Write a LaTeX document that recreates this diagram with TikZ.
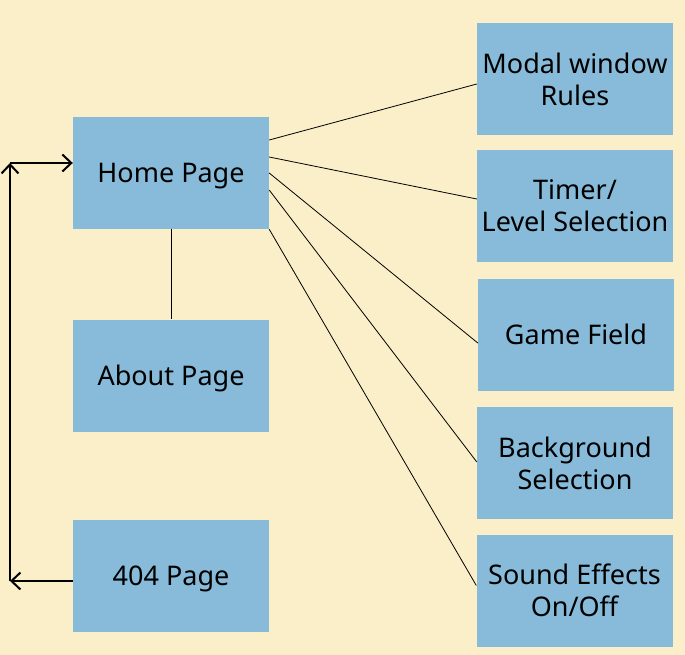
\documentclass[tikz,border=0pt]{standalone}
\usepackage{fontspec}
\setmainfont{Noto Sans}
\usepackage{tikz}
\usetikzlibrary{arrows.meta}
\definecolor{paper}{HTML}{FAEFC9}
\definecolor{boxblue}{HTML}{87BBD9}
\tikzstyle{page} = [rectangle, fill = boxblue, minimum width = 196pt, minimum height = 112pt, inner sep = 0pt, text depth = 0pt, align = center, font = \fontsize{27}{32}\selectfont]
\tikzstyle{link} = [line width = 0.8pt, black]
\tikzstyle{back} = [line width = 2pt, black, -{Straight Barb[length=9pt, width=17pt, line width=2pt]}]

\begin{document}
\begin{tikzpicture}[x=1pt, y=-1pt]

		% Background
		\fill[paper] (0,0) rectangle (685,655);
		\useasboundingbox (0,0) rectangle (685,655);

		% Coordinates
		\coordinate (up) at (10,163);
		\coordinate (low) at (10,581);

		% Nodes
		\node[page] (home) at (171,173) {Home Page};
		\node[page] (about) at (171,375.5) {About Page};
		\node[page] (notfound) at (171,576) {404 Page};

		\node[page] (modal) at (575,79) {Modal window\\Rules};
		\node[page] (timer) at (575,206) {Timer/\\Level Selection};
		\node[page] (field) at (576,334.5) {Game Field};
		\node[page] (backgr) at (575,463) {Background\\Selection};
		\node[page] (sound) at (574.5,590.5) {Sound Effects\\On/Off};

		% Lines
		\draw[link] (home.south) -- (about.north);
		\foreach \from/\to/\dy in {-33/modal/5, -16/timer/-7, 0/field/8.5, 17/backgr/-1}
		{
			\draw[link] ([yshift=-\from pt]home.east) -- ([yshift=-\dy pt]\to.west);
		}
		\draw[link] (home.south east) -- ([yshift=5pt]sound.west);

		% Way back
		\draw[back] ([yshift=-5pt]notfound.west) -- (low);
		\draw[back] (low) -- (up);
		\draw[back] (up) -- ([yshift=10pt]home.west);
	\end{tikzpicture}
\end{document}
